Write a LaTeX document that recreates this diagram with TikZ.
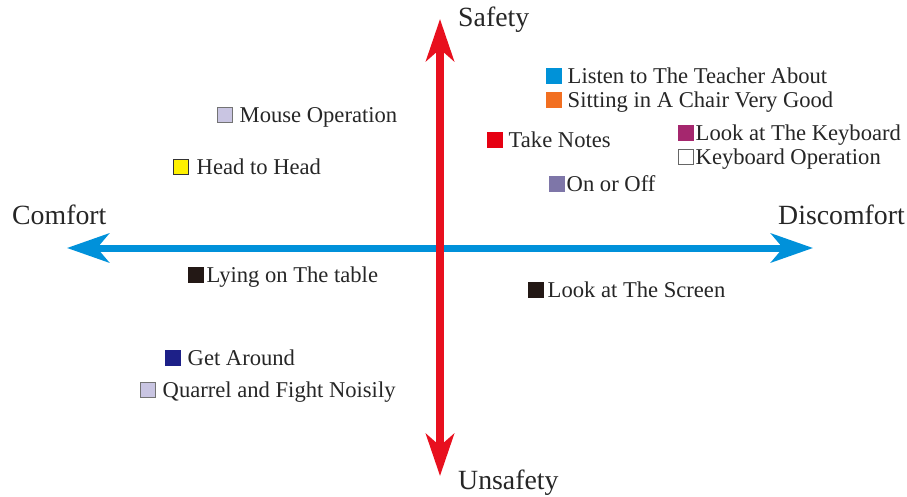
\documentclass[tikz,border=0pt]{standalone}
\usepackage{fontspec}
\setmainfont{Liberation Serif}
\usetikzlibrary{arrows.meta}
\definecolor{axred}{HTML}{E8101E}
\definecolor{axblue}{HTML}{0091DA}
\definecolor{cLav}{HTML}{C9C5E2}
\definecolor{cYel}{HTML}{FFF100}
\definecolor{cRed}{HTML}{E60012}
\definecolor{cPur}{HTML}{7E76A8}
\definecolor{cDark}{HTML}{231815}
\definecolor{cBlue}{HTML}{0092D8}
\definecolor{cOra}{HTML}{F26F21}
\definecolor{cMag}{HTML}{A5276E}
\definecolor{cNavy}{HTML}{1D2088}
\tikzset{
  sq/.style={draw=black!55, line width=0.5pt, minimum size=15pt, inner sep=0pt, anchor=south west},
  lbl/.style={font=\fontsize{22.6}{24}\selectfont, inner sep=0pt, anchor=base west, text=black!85},
  axl/.style={font=\fontsize{27.8}{30}\selectfont, inner sep=0pt, anchor=base west, text=black!85}
}
\begin{document}
\begin{tikzpicture}[x=1pt,y=-1pt]
\useasboundingbox (0,0) rectangle (907,497);
% axes
\coordinate (top) at (440,19);
\coordinate (bot) at (440,476);
\coordinate (left) at (67,248);
\coordinate (right) at (813,248);
\draw[axblue, line width=7pt, {Stealth[length=42pt, width=29pt, inset=12pt]}-{Stealth[length=42pt, width=29pt, inset=12pt]}] (left) -- (right);
\draw[axred, line width=8pt, {Stealth[length=42pt, width=28pt, inset=12pt]}-{Stealth[length=42pt, width=28pt, inset=12pt]}] (bot) -- (top);
% axis labels
\node[axl] (safety) at (458,27) {Safety};
\node[axl] (unsafety) at (458,489) {Unsafety};
\node[axl] (comfort) at (12,224) {Comfort};
\node[axl] (discomfort) at (778,224) {Discomfort};
% items
\node[sq, fill=cLav] (s1) at (217,123) {};
\node[lbl] (t1) at ([xshift=7pt]s1.south east) {Mouse Operation};
\node[sq, fill=cYel, draw=black!80] (s2) at (173,175) {};
\node[lbl] (t2) at ([xshift=8pt]s2.south east) {Head to Head};
\node[sq, fill=cRed, draw=cRed] (s3) at (487,148) {};
\node[lbl] (t3) at ([xshift=6pt]s3.south east) {Take Notes};
\node[sq, fill=cPur, draw=cPur] (s4) at (549,192) {};
\node[lbl] (t4) at ([xshift=2pt]s4.south east) {On or Off};
\node[sq, fill=cBlue, draw=cBlue] (s5) at (546,84) {};
\node[lbl] (t5) at ([xshift=6pt]s5.south east) {Listen to The Teacher About};
\node[sq, fill=cOra, draw=cOra] (s6) at (546,108) {};
\node[lbl] (t6) at ([xshift=6pt]s6.south east) {Sitting in A Chair Very Good};
\node[sq, fill=cMag, draw=cMag] (s7) at (678,141) {};
\node[lbl] (t7) at ([xshift=2pt]s7.south east) {Look at The Keyboard};
\node[sq, fill=white, draw=black!60] (s8) at (678,165) {};
\node[lbl] (t8) at ([xshift=2pt]s8.south east) {Keyboard Operation};
\node[sq, fill=cDark, draw=cDark] (s9) at (188,282) {};
\node[lbl] (t9) at ([xshift=3pt]s9.south east) {Lying on The table};
\node[sq, fill=cDark, draw=cDark] (s10) at (528,297) {};
\node[lbl] (t10) at ([xshift=4pt]s10.south east) {Look at The Screen};
\node[sq, fill=cNavy, draw=cNavy] (s11) at (165,365) {};
\node[lbl] (t11) at ([xshift=7pt]s11.south east) {Get Around};
\node[sq, fill=cLav] (s12) at (140,397) {};
\node[lbl] (t12) at ([xshift=7pt]s12.south east) {Quarrel and Fight Noisily};
\end{tikzpicture}
\end{document}
